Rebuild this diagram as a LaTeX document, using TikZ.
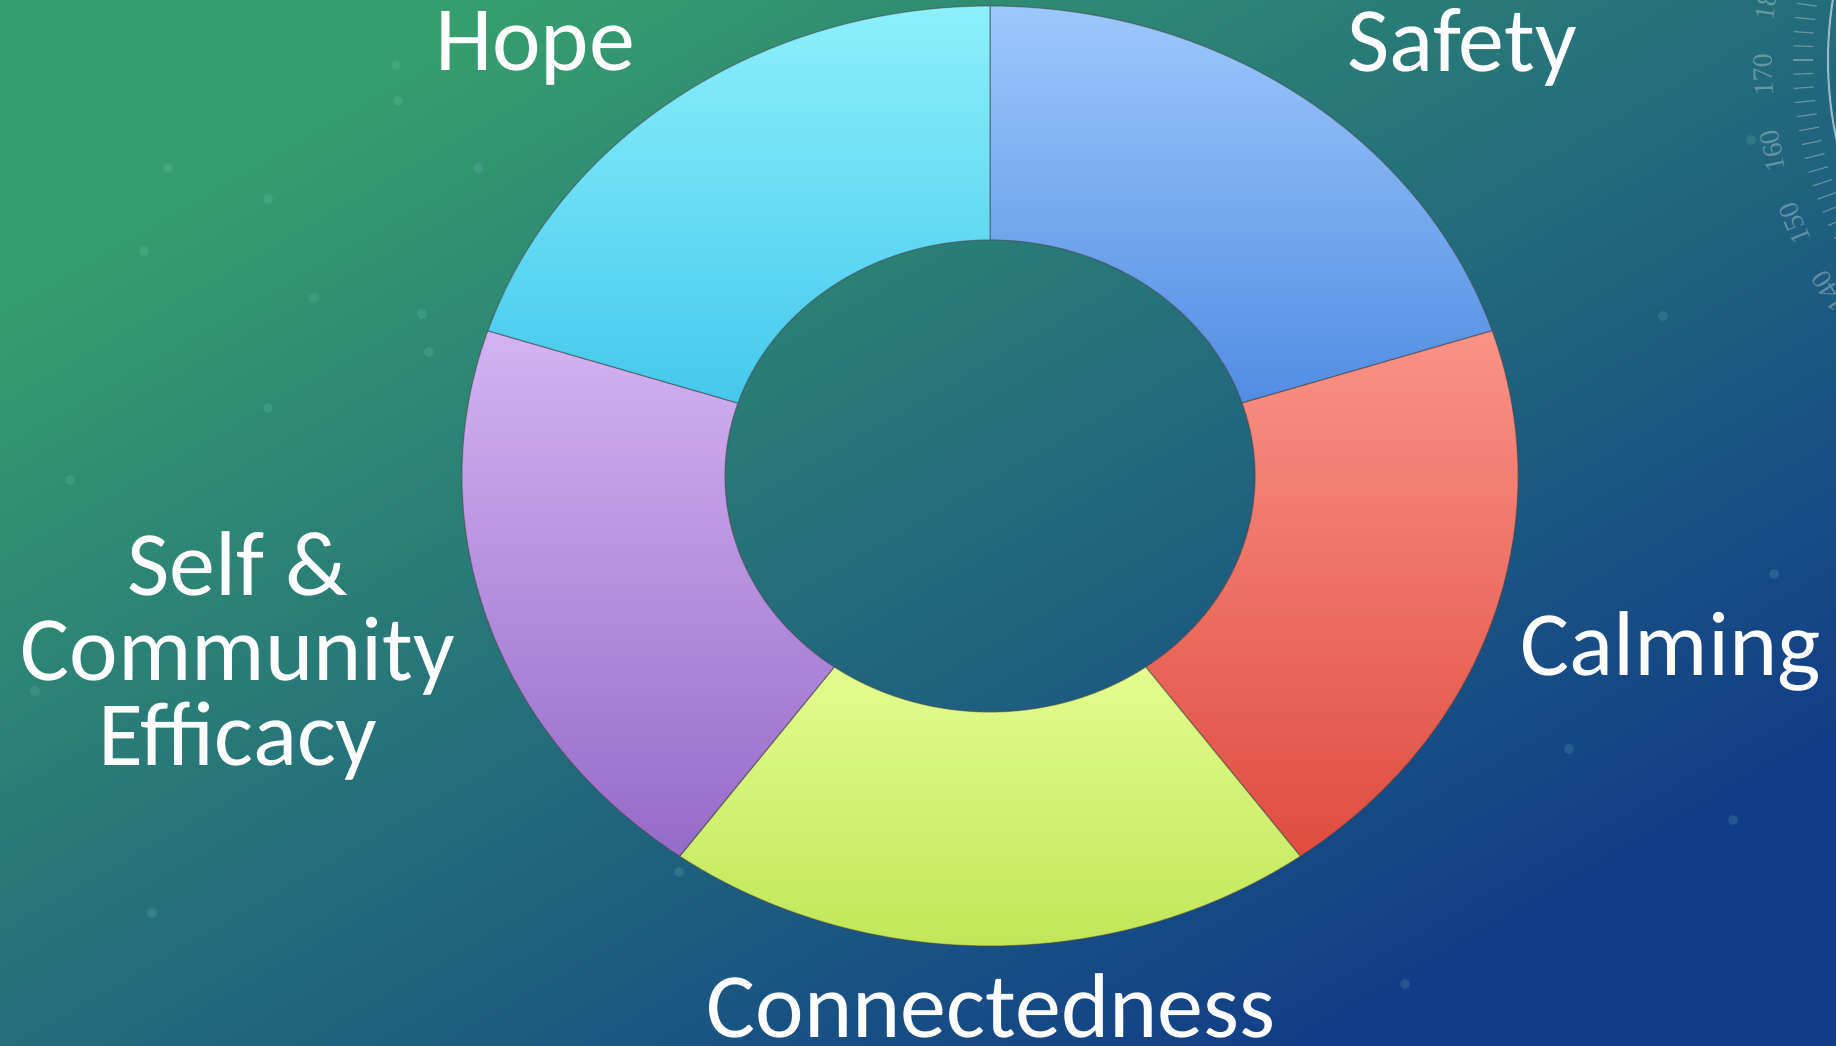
\documentclass[tikz,border=0pt]{standalone}
\usepackage{fontspec}
\setmainfont{Carlito}
\newfontfamily\dialfont{Liberation Serif}

% background and ring colours
\definecolor{bgtop}{RGB}{54,158,110}
\definecolor{bgmid}{RGB}{36,116,120}
\definecolor{bgbot}{RGB}{17,60,136}
\definecolor{speck}{RGB}{120,205,190}
\definecolor{safetytop}{RGB}{156,200,252}
\definecolor{safetybot}{RGB}{82,140,226}
\definecolor{calmtop}{RGB}{250,146,134}
\definecolor{calmbot}{RGB}{224,76,64}
\definecolor{conntop}{RGB}{228,252,142}
\definecolor{connbot}{RGB}{188,228,82}
\definecolor{selftop}{RGB}{212,178,242}
\definecolor{selfbot}{RGB}{150,106,200}
\definecolor{hopetop}{RGB}{140,240,252}
\definecolor{hopebot}{RGB}{68,200,236}

\begin{document}
\begin{tikzpicture}[x=0.5pt, y=0.5pt,
    word/.style = {text=white, font=\fontsize{46}{42.5}\selectfont, inner sep=0pt, align=center},
    seg/.style = {draw=black!75, draw opacity=0.5, line width=0.6pt},
    dial/.style = {white, opacity=0.3, line width=0.6pt}]
    \useasboundingbox (0,0) rectangle (1836,1045);
    \clip (0,0) rectangle (1836,1045);

    % backdrop
    \shade[top color=bgtop, middle color=bgmid, bottom color=bgbot, shading angle=30] (0,0) rectangle (1836,1045);
    \foreach \x/\y in {396/980, 398/944, 268/846, 478/877, 314/747, 268/637, 429/693, 144/794,
                       168/877, 422/731, 1751/905, 1663/729, 1774/471, 1733/225, 1569/296,
                       70/565, 35/354, 152/132, 679/173, 1405/61}
        \fill[speck, opacity=0.18] (\x,\y) circle[radius=5];

    % protractor in the corner
    \coordinate (dial) at (2200,985);
    \draw[white, opacity=0.55, line width=1pt] (dial) circle[radius=372];
    \foreach \t in {160,162,...,214}
        \draw[dial] ([shift={(\t:387)}]dial) -- ([shift={(\t:407)}]dial);
    \foreach \v in {180,170,160,150,140}
        \node[white, opacity=0.3, inner sep=0pt, font=\dialfont\fontsize{14}{14}\selectfont, rotate=262-\v]
            (deg\v) at ([shift={(352-\v:437)}]dial) {\v};

    % ring of five parts
    \coordinate (c) at (990,569);
    \foreach \a/\b/\ct/\cb in {90/18/safetytop/safetybot, 18/-54/calmtop/calmbot,
                               -54/-126/conntop/connbot, -126/-198/selftop/selfbot,
                               -198/-270/hopetop/hopebot}
        \shadedraw[seg, top color=\ct, bottom color=\cb]
            ([shift={(\a:528 and 470)}]c) arc[start angle=\a, end angle=\b, x radius=528, y radius=470]
            -- ([shift={(\b:265 and 236)}]c) arc[start angle=\b, end angle=\a, x radius=265, y radius=236]
            -- cycle;

    % names
    \node[word, anchor=base] (hope) at (535,974) {Hope};
    \node[word, anchor=base] (safety) at (1462,973) {Safety};
    \node[word, anchor=base] (calming) at (1671,369) {Calming};
    \node[word, anchor=base] (connect) at (991,8) {Connectedness};
    \node[word, anchor=base] (efficacy) at (238,280) {Self \&\\Community\\Efficacy};
\end{tikzpicture}
\end{document}
